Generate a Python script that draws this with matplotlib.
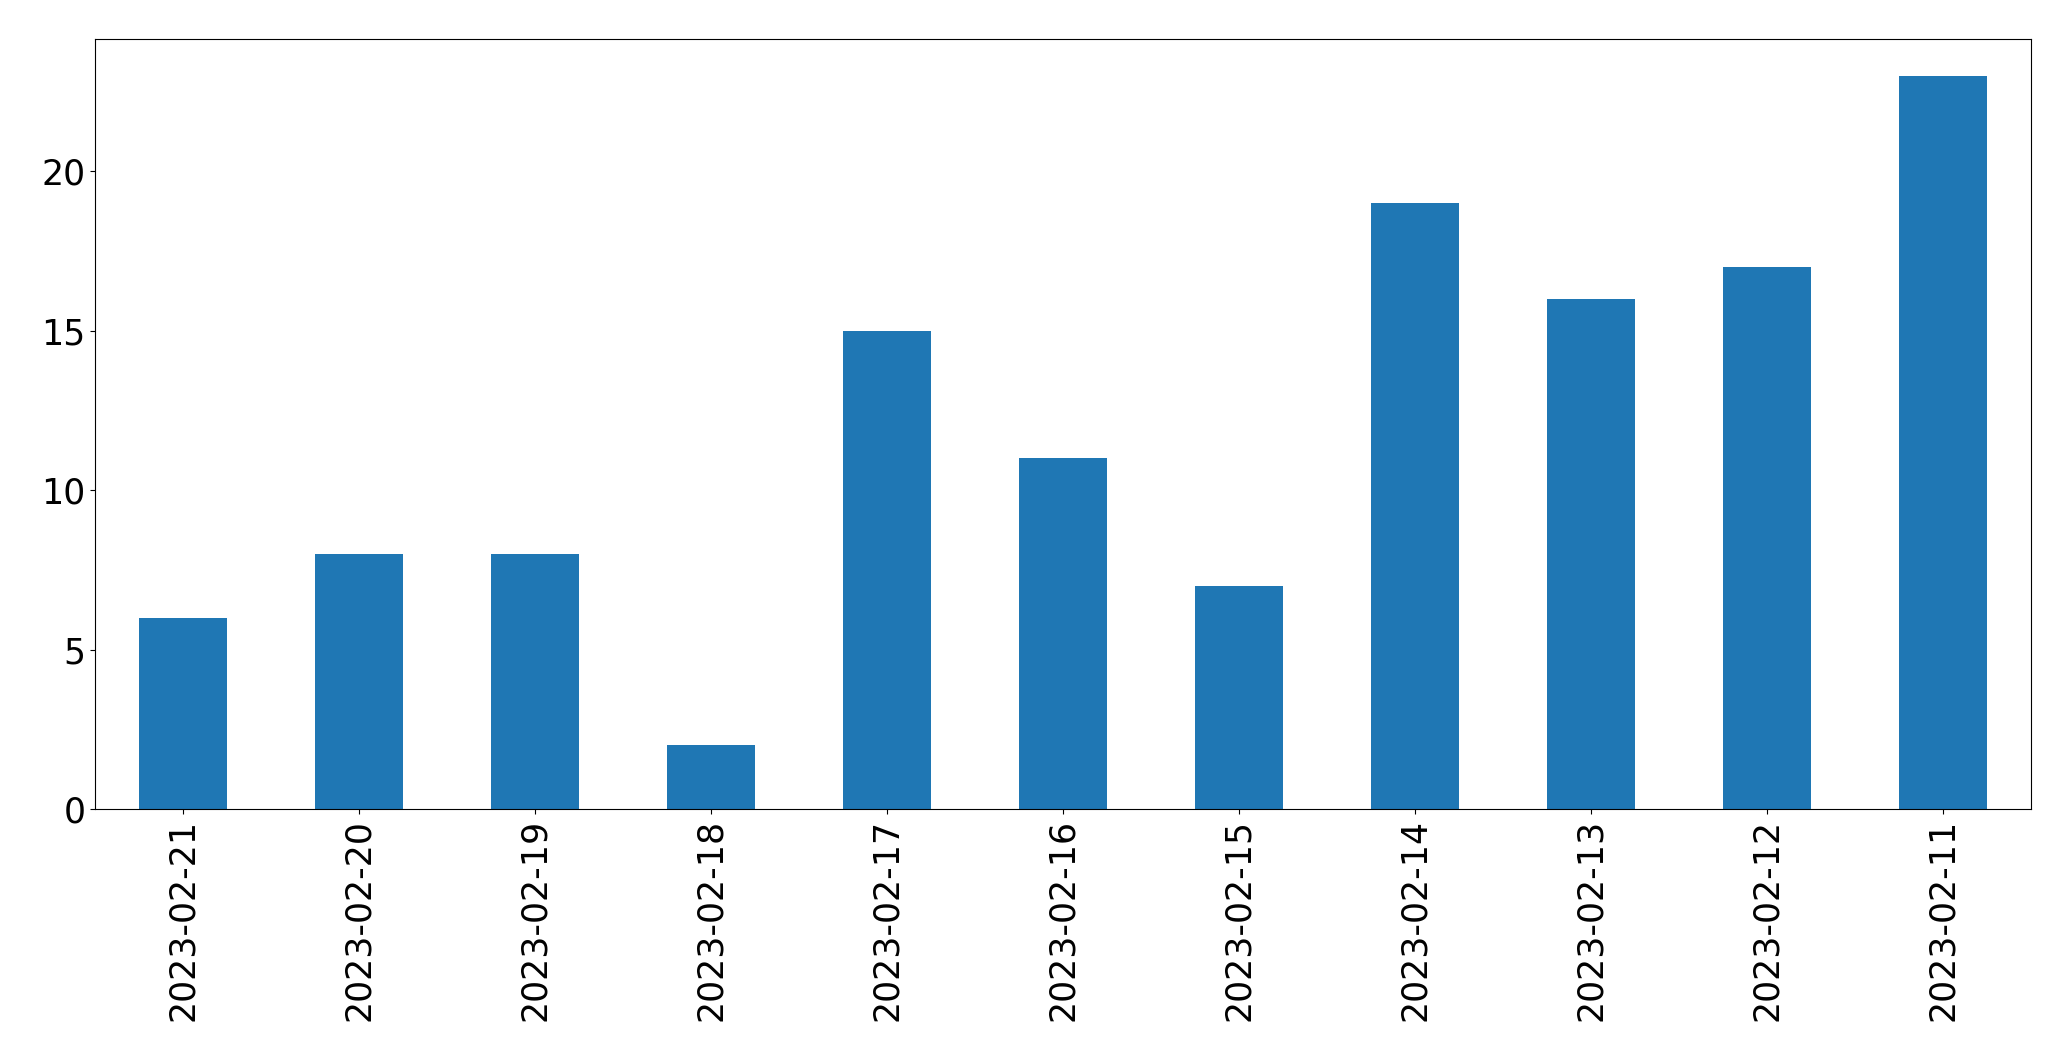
import matplotlib
matplotlib.use('Agg')
import matplotlib.pyplot as plt
import pandas as pd

dates = ['2023-02-21', '2023-02-20', '2023-02-19', '2023-02-18', '2023-02-17', '2023-02-16',
         '2023-02-15', '2023-02-14', '2023-02-13', '2023-02-12', '2023-02-11']
counts = [6, 8, 8, 2, 15, 11, 7, 19, 16, 17, 23]

s = pd.Series(counts, index=dates)

fig = plt.figure(figsize=(20.71, 10.61), dpi=100)
ax = fig.add_axes([0.0459, 0.2375, 0.9348, 0.7257])
s.plot(kind='bar', ax=ax, color='#1f77b4')
ax.tick_params(axis='both', labelsize=25)

fig.savefig('out.png', dpi=100)
